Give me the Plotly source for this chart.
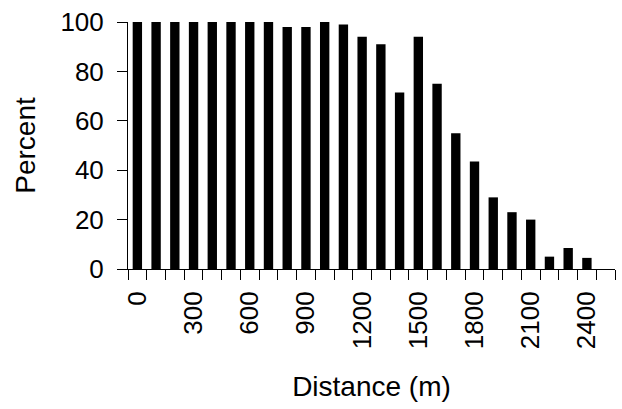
import plotly.graph_objects as go

# Distance classes (m) and percentage in each class
distances = [str(d) for d in range(0, 2600, 100)]
percent = [100, 100, 100, 100, 100, 100, 100, 100, 98, 98, 100, 99, 94,
           91, 71.5, 94, 75, 55, 43.5, 29, 23, 20, 5, 8.5, 4.5, 0]
# Labels shown on every third class
tick_labels = [d if int(d) % 300 == 0 and int(d) <= 2400 else "" for d in distances]

font_family = "Arial, Liberation Sans, sans-serif"

fig = go.Figure(
    go.Bar(
        x=distances,
        y=percent,
        marker=dict(color="black", line=dict(width=0)),
    )
)

fig.update_layout(
    width=622,
    height=409,
    margin=dict(l=128, r=7, t=19, b=140),
    paper_bgcolor="white",
    plot_bgcolor="white",
    bargap=0.5,
    showlegend=False,
    font=dict(family=font_family, size=26, color="black"),
)

fig.update_xaxes(
    type="category",
    tickmode="array",
    tickvals=distances,
    ticktext=tick_labels,
    tickson="boundaries",
    tickangle=-90,
    ticks="outside",
    ticklen=10,
    tickwidth=1,
    tickcolor="black",
    ticklabelstandoff=11,
    showline=True,
    linecolor="black",
    linewidth=1,
    showgrid=False,
    zeroline=False,
    tickfont=dict(size=26),
    title=dict(text="Distance (m)", font=dict(size=28), standoff=28),
)

fig.update_yaxes(
    range=[0, 100],
    tickmode="array",
    tickvals=[0, 20, 40, 60, 80, 100],
    ticks="outside",
    ticklen=10,
    tickwidth=1,
    tickcolor="black",
    ticklabelstandoff=8,
    showline=True,
    linecolor="black",
    linewidth=1,
    showgrid=False,
    zeroline=False,
    tickfont=dict(size=26),
    title=dict(text="Percent", font=dict(size=28), standoff=16),
)

fig.write_html("out.html")
